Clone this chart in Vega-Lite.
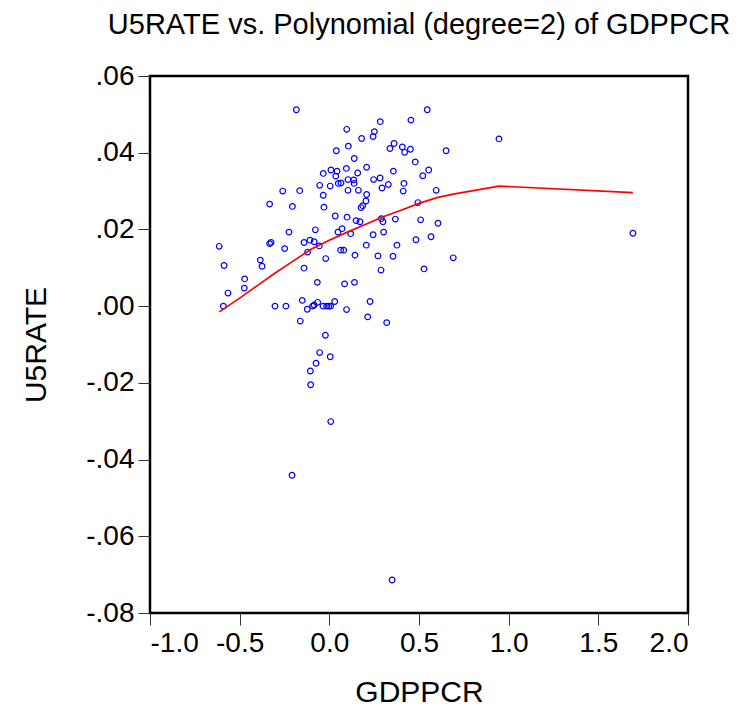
{
  "$schema": "https://vega.github.io/schema/vega-lite/v6.json",
  "width": 538,
  "height": 537,
  "autosize": "none",
  "padding": {"left": 150, "top": 76, "right": 54, "bottom": 102},
  "background": "white",
  "title": {
    "text": "U5RATE vs. Polynomial (degree=2) of GDPPCR",
    "font": "Liberation Sans",
    "fontSize": 29,
    "fontWeight": "normal",
    "color": "black",
    "anchor": "middle",
    "offset": 22
  },
  "config": {
    "view": {"stroke": "black", "strokeWidth": 2.5},
    "axis": {
      "domain": false,
      "grid": false,
      "ticks": true,
      "tickSize": 12,
      "tickColor": "#333333",
      "tickWidth": 1,
      "labelFont": "Liberation Sans",
      "labelFontSize": 28,
      "labelColor": "black",
      "titleFont": "Liberation Sans",
      "titleFontSize": 30,
      "titleFontWeight": "normal",
      "titleColor": "black"
    }
  },
  "datasets": {
    "points": [
      {"GDPPCR": -0.184, "U5RATE": 0.0512},
      {"GDPPCR": 0.097, "U5RATE": 0.0461},
      {"GDPPCR": 0.284, "U5RATE": 0.0481},
      {"GDPPCR": 0.251, "U5RATE": 0.0455},
      {"GDPPCR": 0.244, "U5RATE": 0.0442},
      {"GDPPCR": 0.180, "U5RATE": 0.0437},
      {"GDPPCR": 0.455, "U5RATE": 0.0485},
      {"GDPPCR": 0.546, "U5RATE": 0.0512},
      {"GDPPCR": 0.039, "U5RATE": 0.0405},
      {"GDPPCR": 0.106, "U5RATE": 0.0417},
      {"GDPPCR": 0.338, "U5RATE": 0.0411},
      {"GDPPCR": 0.361, "U5RATE": 0.0424},
      {"GDPPCR": 0.407, "U5RATE": 0.0415},
      {"GDPPCR": 0.420, "U5RATE": 0.0401},
      {"GDPPCR": 0.452, "U5RATE": 0.0409},
      {"GDPPCR": 0.139, "U5RATE": 0.0385},
      {"GDPPCR": 0.479, "U5RATE": 0.0376},
      {"GDPPCR": 0.009, "U5RATE": 0.0355},
      {"GDPPCR": 0.043, "U5RATE": 0.0352},
      {"GDPPCR": 0.095, "U5RATE": 0.0359},
      {"GDPPCR": -0.034, "U5RATE": 0.0346},
      {"GDPPCR": 0.036, "U5RATE": 0.0339},
      {"GDPPCR": 0.158, "U5RATE": 0.0347},
      {"GDPPCR": 0.208, "U5RATE": 0.0362},
      {"GDPPCR": 0.357, "U5RATE": 0.0352},
      {"GDPPCR": 0.554, "U5RATE": 0.0355},
      {"GDPPCR": 0.521, "U5RATE": 0.0340},
      {"GDPPCR": 0.104, "U5RATE": 0.0330},
      {"GDPPCR": 0.136, "U5RATE": 0.0329},
      {"GDPPCR": 0.138, "U5RATE": 0.0320},
      {"GDPPCR": 0.247, "U5RATE": 0.0330},
      {"GDPPCR": 0.283, "U5RATE": 0.0334},
      {"GDPPCR": 0.050, "U5RATE": 0.0320},
      {"GDPPCR": 0.065, "U5RATE": 0.0321},
      {"GDPPCR": -0.054, "U5RATE": 0.0315},
      {"GDPPCR": 0.005, "U5RATE": 0.0313},
      {"GDPPCR": 0.294, "U5RATE": 0.0308},
      {"GDPPCR": 0.329, "U5RATE": 0.0317},
      {"GDPPCR": 0.416, "U5RATE": 0.0320},
      {"GDPPCR": 0.412, "U5RATE": 0.0300},
      {"GDPPCR": 0.596, "U5RATE": 0.0302},
      {"GDPPCR": -0.260, "U5RATE": 0.0300},
      {"GDPPCR": -0.165, "U5RATE": 0.0301},
      {"GDPPCR": 0.104, "U5RATE": 0.0302},
      {"GDPPCR": 0.162, "U5RATE": 0.0302},
      {"GDPPCR": -0.034, "U5RATE": 0.0289},
      {"GDPPCR": 0.208, "U5RATE": 0.0291},
      {"GDPPCR": -0.333, "U5RATE": 0.0266},
      {"GDPPCR": -0.206, "U5RATE": 0.0260},
      {"GDPPCR": -0.030, "U5RATE": 0.0258},
      {"GDPPCR": 0.204, "U5RATE": 0.0274},
      {"GDPPCR": 0.186, "U5RATE": 0.0262},
      {"GDPPCR": 0.177, "U5RATE": 0.0257},
      {"GDPPCR": 0.494, "U5RATE": 0.0270},
      {"GDPPCR": 0.033, "U5RATE": 0.0235},
      {"GDPPCR": 0.099, "U5RATE": 0.0232},
      {"GDPPCR": 0.149, "U5RATE": 0.0223},
      {"GDPPCR": 0.171, "U5RATE": 0.0220},
      {"GDPPCR": 0.290, "U5RATE": 0.0228},
      {"GDPPCR": 0.299, "U5RATE": 0.0220},
      {"GDPPCR": 0.368, "U5RATE": 0.0227},
      {"GDPPCR": 0.509, "U5RATE": 0.0225},
      {"GDPPCR": 0.606, "U5RATE": 0.0216},
      {"GDPPCR": -0.078, "U5RATE": 0.0199},
      {"GDPPCR": -0.225, "U5RATE": 0.0193},
      {"GDPPCR": 0.071, "U5RATE": 0.0202},
      {"GDPPCR": 0.048, "U5RATE": 0.0193},
      {"GDPPCR": 0.119, "U5RATE": 0.0189},
      {"GDPPCR": 0.244, "U5RATE": 0.0186},
      {"GDPPCR": 0.303, "U5RATE": 0.0193},
      {"GDPPCR": 0.483, "U5RATE": 0.0173},
      {"GDPPCR": 0.567, "U5RATE": 0.0181},
      {"GDPPCR": -0.614, "U5RATE": 0.0156},
      {"GDPPCR": -0.333, "U5RATE": 0.0163},
      {"GDPPCR": -0.325, "U5RATE": 0.0166},
      {"GDPPCR": -0.141, "U5RATE": 0.0166},
      {"GDPPCR": -0.108, "U5RATE": 0.0172},
      {"GDPPCR": -0.085, "U5RATE": 0.0168},
      {"GDPPCR": -0.056, "U5RATE": 0.0157},
      {"GDPPCR": -0.249, "U5RATE": 0.0150},
      {"GDPPCR": 0.063, "U5RATE": 0.0146},
      {"GDPPCR": 0.080, "U5RATE": 0.0146},
      {"GDPPCR": 0.206, "U5RATE": 0.0159},
      {"GDPPCR": 0.377, "U5RATE": 0.0159},
      {"GDPPCR": 0.143, "U5RATE": 0.0133},
      {"GDPPCR": 0.271, "U5RATE": 0.0131},
      {"GDPPCR": 0.355, "U5RATE": 0.0130},
      {"GDPPCR": -0.121, "U5RATE": 0.0141},
      {"GDPPCR": -0.020, "U5RATE": 0.0124},
      {"GDPPCR": -0.385, "U5RATE": 0.0120},
      {"GDPPCR": 0.288, "U5RATE": 0.0094},
      {"GDPPCR": 0.528, "U5RATE": 0.0097},
      {"GDPPCR": -0.587, "U5RATE": 0.0106},
      {"GDPPCR": -0.375, "U5RATE": 0.0104},
      {"GDPPCR": -0.141, "U5RATE": 0.0099},
      {"GDPPCR": -0.472, "U5RATE": 0.0071},
      {"GDPPCR": -0.474, "U5RATE": 0.0047},
      {"GDPPCR": -0.565, "U5RATE": 0.0034},
      {"GDPPCR": -0.591, "U5RATE": 0.0000},
      {"GDPPCR": -0.067, "U5RATE": 0.0062},
      {"GDPPCR": 0.085, "U5RATE": 0.0058},
      {"GDPPCR": 0.140, "U5RATE": 0.0062},
      {"GDPPCR": -0.303, "U5RATE": 0.0000},
      {"GDPPCR": -0.242, "U5RATE": 0.0000},
      {"GDPPCR": -0.151, "U5RATE": 0.0015},
      {"GDPPCR": -0.123, "U5RATE": -0.0008},
      {"GDPPCR": -0.093, "U5RATE": 0.0000},
      {"GDPPCR": -0.085, "U5RATE": 0.0003},
      {"GDPPCR": -0.065, "U5RATE": 0.0010},
      {"GDPPCR": -0.035, "U5RATE": 0.0000},
      {"GDPPCR": -0.015, "U5RATE": 0.0000},
      {"GDPPCR": -0.004, "U5RATE": 0.0000},
      {"GDPPCR": 0.007, "U5RATE": 0.0000},
      {"GDPPCR": 0.030, "U5RATE": 0.0012},
      {"GDPPCR": 0.096, "U5RATE": -0.0009},
      {"GDPPCR": 0.227, "U5RATE": 0.0012},
      {"GDPPCR": 0.214, "U5RATE": -0.0028},
      {"GDPPCR": 0.320, "U5RATE": -0.0043},
      {"GDPPCR": -0.162, "U5RATE": -0.0039},
      {"GDPPCR": -0.022, "U5RATE": -0.0076},
      {"GDPPCR": -0.054, "U5RATE": -0.0121},
      {"GDPPCR": 0.005, "U5RATE": -0.0132},
      {"GDPPCR": -0.074, "U5RATE": -0.0149},
      {"GDPPCR": -0.106, "U5RATE": -0.0169},
      {"GDPPCR": -0.104, "U5RATE": -0.0205},
      {"GDPPCR": 0.008, "U5RATE": -0.0301},
      {"GDPPCR": -0.208, "U5RATE": -0.0441},
      {"GDPPCR": 0.350, "U5RATE": -0.0714},
      {"GDPPCR": 0.946, "U5RATE": 0.0436},
      {"GDPPCR": 0.651, "U5RATE": 0.0405},
      {"GDPPCR": 0.691, "U5RATE": 0.0126},
      {"GDPPCR": 1.693, "U5RATE": 0.0190}
    ],
    "fit": [
      {"GDPPCR": -0.614, "U5RATE": -0.0015},
      {"GDPPCR": -0.5, "U5RATE": 0.0021},
      {"GDPPCR": -0.4, "U5RATE": 0.0054},
      {"GDPPCR": -0.3, "U5RATE": 0.0087},
      {"GDPPCR": -0.2, "U5RATE": 0.0118},
      {"GDPPCR": -0.1, "U5RATE": 0.0149},
      {"GDPPCR": 0.0, "U5RATE": 0.0172},
      {"GDPPCR": 0.1, "U5RATE": 0.0193},
      {"GDPPCR": 0.2, "U5RATE": 0.0213},
      {"GDPPCR": 0.3, "U5RATE": 0.0233},
      {"GDPPCR": 0.4, "U5RATE": 0.0250},
      {"GDPPCR": 0.5, "U5RATE": 0.0268},
      {"GDPPCR": 0.6, "U5RATE": 0.0283},
      {"GDPPCR": 0.691, "U5RATE": 0.0292},
      {"GDPPCR": 0.946, "U5RATE": 0.0313},
      {"GDPPCR": 1.693, "U5RATE": 0.0296}
    ]
  },
  "encoding": {
    "x": {
      "field": "GDPPCR",
      "type": "quantitative",
      "scale": {"domain": [-1, 2], "nice": false, "zero": false},
      "axis": {
        "title": "GDPPCR",
        "values": [-1, -0.5, 0, 0.5, 1, 1.5, 2],
        "labelExpr": "replace(format(datum.value, '.1f'), '\u2212', '-')",
        "labelPadding": 4,
        "titlePadding": 20
      }
    },
    "y": {
      "field": "U5RATE",
      "type": "quantitative",
      "scale": {"domain": [-0.08, 0.06], "nice": false, "zero": false},
      "axis": {
        "title": "U5RATE",
        "values": [-0.08, -0.06, -0.04, -0.02, 0, 0.02, 0.04, 0.06],
        "labelExpr": "replace(replace(format(datum.value, '.2f'), '0.', '.'), '\u2212', '-')",
        "labelPadding": 4,
        "titlePadding": 34
      }
    }
  },
  "layer": [
    {
      "data": {"name": "points"},
      "mark": {"type": "point", "shape": "circle", "filled": false, "color": "#0000FF", "size": 32, "strokeWidth": 1.2, "opacity": 1}
    },
    {
      "data": {"name": "fit"},
      "mark": {"type": "line", "color": "#FF0000", "strokeWidth": 1.7}
    }
  ]
}
